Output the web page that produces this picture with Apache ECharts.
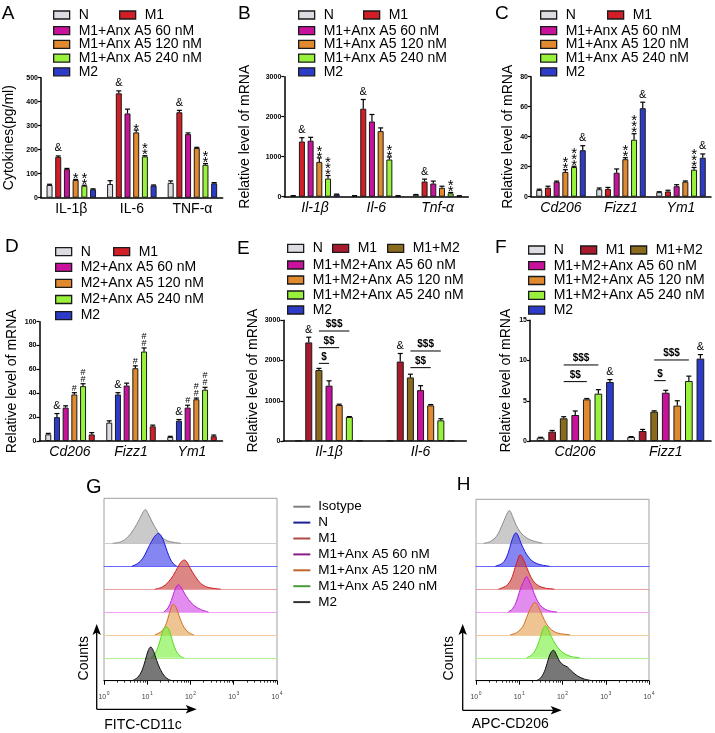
<!DOCTYPE html>
<html><head><meta charset="utf-8">
<script src="https://cdn.jsdelivr.net/npm/echarts@6/dist/echarts.min.js"></script>
<style>html,body{margin:0;padding:0;background:#fff}#c{width:715px;height:733px}</style>
</head><body><div id="c"></div>
<script>
// ======================= DATA =======================
// Panel A
const catsA = ['IL-1β', 'IL-6', 'TNF-α'];
const namesA = ['N', 'M1', 'M1+Anx A5 60 nM', 'M1+Anx A5 120 nM', 'M1+Anx A5 240 nM', 'M2'];
const valsA = [[53, 57, 62], [170, 435, 356], [119, 351, 265], [74, 272, 207], [50, 172, 137], [35, 51, 60]];
const errsA = [[3, 14, 8], [4, 10, 8], [3, 18, 5], [2, 10, 3], [2, 3, 5], [2, 2, 3]];
const marksA = [['', '', ''], ['&', '&', '&'], ['', '', ''], ['*', '*', ''], ['**', '**', '**'], ['', '', '']];
const ticksA = [0, 500, 100];

// Panel B
const catsB = ['Il-1β', 'Il-6', 'Tnf-α'];
const namesB = ['N', 'M1', 'M1+Anx A5 60 nM', 'M1+Anx A5 120 nM', 'M1+Anx A5 240 nM', 'M2'];
const valsB = [[22, 22, 50], [1380, 2200, 380], [1400, 1880, 330], [870, 1640, 222], [455, 930, 85], [60, 22, 20]];
const errsB = [[4, 4, 5], [95, 230, 60], [85, 175, 60], [100, 80, 40], [75, 65, 20], [5, 4, 4]];
const marksB = [['', '', ''], ['&', '&', '&'], ['', '', ''], ['**', '', ''], ['***', '**', '**'], ['', '', '']];
const ticksB = [0, 3000, 1000];

// Panel C
const catsC = ['Cd206', 'Fizz1', 'Ym1'];
const namesC = ['N', 'M1', 'M1+Anx A5 60 nM', 'M1+Anx A5 120 nM', 'M1+Anx A5 240 nM', 'M2'];
const valsC = [[4.5, 5, 3], [6, 5.2, 3.5], [10, 16, 7], [16.5, 25, 10], [19.8, 38, 18], [31, 59, 26]];
const errsC = [[0.5, 0.8, 0.3], [1, 1, 0.8], [0.4, 2.5, 1], [1.5, 1, 0.5], [0.5, 4, 1.5], [3, 4, 2.5]];
const marksC = [['', '', ''], ['', '', ''], ['', '', ''], ['**', '**', ''], ['***', '***', '***'], ['&', '&', '&']];
const ticksC = [0, 80, 20];

// Panel D (bar order: N, M2, M2+60, M2+120, M2+240, M1)
const catsD = ['Cd206', 'Fizz1', 'Ym1'];
const namesD = ['N', 'M2', 'M2+Anx A5 60 nM', 'M2+Anx A5 120 nM', 'M2+Anx A5 240 nM', 'M1'];
const valsD = [[5.6, 15.4, 3.4], [20, 39, 17], [28, 46.5, 28], [39, 61, 35], [46, 75, 43], [5.5, 12.3, 4]];
const errsD = [[0.8, 1.5, 0.5], [3, 1.5, 1], [1.5, 2, 2], [1.5, 2, 1], [2, 3, 2], [1.5, 1, 1]];
const marksD = [['', '', ''], ['&', '&', '&'], ['', '', '#'], ['#', '#', '##'], ['##', '##', '##'], ['', '', '']];
const ticksD = [0, 100, 20];

// Panel E
const catsE = ['Il-1β', 'Il-6'];
const namesE = ['N', 'M1', 'M1+M2', 'M1+M2+Anx A5 60 nM', 'M1+M2+Anx A5 120 nM', 'M1+M2+Anx A5 240 nM', 'M2'];
const valsE = [[10, 10], [2450, 1975], [1765, 1580], [1375, 1265], [895, 886], [597, 514], [10, 10]];
const errsE = [[0, 0], [130, 200], [40, 80], [120, 110], [20, 20], [10, 40], [0, 0]];
const marksE = [['', ''], ['&', '&'], ['', ''], ['', ''], ['', ''], ['', ''], ['', '']];
const sigE = [[0, 2, 3, 1930, '$'], [0, 2, 4, 2320, '$$'], [0, 2, 5, 2734, '$$$'], [1, 2, 4, 1823, '$$'], [1, 2, 5, 2237, '$$$']];
const ticksE = [0, 3000, 1000];

// Panel F
const catsF = ['Cd206', 'Fizz1'];
const namesF = ['N', 'M1', 'M1+M2', 'M1+M2+Anx A5 60 nM', 'M1+M2+Anx A5 120 nM', 'M1+M2+Anx A5 240 nM', 'M2'];
const valsF = [[0.41, 0.5], [1.16, 1.24], [2.82, 3.65], [3.23, 6.0], [5.18, 4.4], [5.88, 7.46], [7.33, 10.24]];
const errsF = [[0.05, 0.05], [0.15, 0.2], [0.2, 0.1], [0.5, 0.3], [0.1, 0.6], [0.5, 0.6], [0.3, 0.5]];
const marksF = [['', ''], ['', ''], ['', ''], ['', ''], ['', ''], ['', ''], ['&', '&']];
const sigF = [[0, 2, 4, 7.38, '$$'], [0, 2, 5, 9.45, '$$$'], [1, 2, 3, 7.5, '$'], [1, 2, 5, 10.07, '$$$']];
const ticksF = [0, 15, 5];

// Flow cytometry histograms: [fluorescence intensity, relative counts]
const histNames = ['Isotype', 'N', 'M1', 'M1+Anx A5 60 nM', 'M1+Anx A5 120 nM', 'M1+Anx A5 240 nM', 'M2'];
const gIsotype = [[1.6,0],[2.5,5],[3.5,18],[5,45],[6.5,72],[8,95],[9,103],[10.5,90],[13,65],[17,38],[22,18],[30,7],[45,2],[60,0]];
const gN = [[4.4,0],[6,8],[8,25],[10,50],[12.5,75],[15,92],[18,100],[21,93],[25,70],[29,45],[34,22],[40,8],[48,0]];
const gM1 = [[15,0],[22,6],[30,20],[40,42],[50,65],[60,82],[72,89],[85,80],[100,62],[130,38],[170,18],[230,7],[350,2],[500,0]];
const gA60 = [[24,0],[30,12],[36,35],[42,62],[48,80],[53,83],[60,76],[72,58],[90,38],[120,20],[170,8],[260,0]];
const gA120 = [[15,0],[20,8],[25,22],[30,50],[35,80],[40,94],[46,85],[54,60],[65,32],[80,14],[100,4],[120,0]];
const gA240 = [[12,0],[15,12],[18,35],[21,65],[24,88],[28,94],[32,85],[37,58],[43,32],[50,14],[60,4],[70,0]];
const gM2 = [[4.5,0],[6,10],[7.5,30],[9,62],[10.5,92],[12,103],[14,90],[16.5,62],[20,35],[25,14],[31,4],[38,0]];
const hIsotype = [[1.5,0],[2.2,6],[3,22],[4,55],[5,85],[5.9,100],[7,82],[8.5,55],[10.5,35],[13,22],[17,12],[24,5],[35,0]];
const hN = [[2.8,0],[4,8],[5,25],[6,55],[7,85],[8.4,102],[9.5,92],[11,70],[13.5,45],[17,25],[22,12],[32,4],[50,0]];
const hM1 = [[3.3,0],[5,10],[6.5,30],[8,65],[9.5,95],[10.5,105],[12,95],[14,75],[17,48],[21,25],[28,10],[40,3],[65,0]];
const hA60 = [[5.6,0],[7,10],[8.5,30],[10,60],[12,88],[14.8,108],[17,95],[20,72],[24,45],[30,22],[40,8],[55,2],[74,0]];
const hA120 = [[6.2,0],[9,8],[12,25],[15,55],[18,80],[23,99],[28,85],[34,60],[42,35],[55,16],[75,6],[110,2],[150,0]];
const hA240 = [[14.8,0],[20,10],[26,35],[32,70],[36,90],[40,98],[46,88],[55,65],[70,40],[90,22],[120,10],[170,3],[250,0]];
const hM2 = [[25,0],[32,10],[40,35],[48,70],[55,88],[62,93],[72,80],[85,60],[105,48],[130,42],[160,30],[220,15],[320,5],[500,0]];
const histTicks = [1, 10000];

// ======================= STYLE =======================
const FONT = '"Liberation Sans", Arial, Helvetica, sans-serif';
const C_N = '#dcdce2', C_M1 = '#d21f27', C_M1d = '#a81b2e', C_60 = '#c8129c', C_120 = '#e0892e',
      C_240 = '#98f23c', C_M2 = '#2c3cc8', C_M1M2 = '#8a6a1c';

const option = {
  animation: false, backgroundColor: '#fff', textStyle: { fontFamily: FONT },
  grid: [], xAxis: [], yAxis: [], series: [], legend: [], graphic: { elements: [] }
};

function markStyle(m) {
  const ch = m.charAt(0);
  if (ch === '&') return { fontSize: 11, lineHeight: 11, dy: -1 };
  if (ch === '*') return { fontSize: 15, lineHeight: 6, dy: 3.5 };
  return { fontSize: 9, lineHeight: 7, dy: 0 };
}

function barPanel(p) {
  const gi = option.grid.length;
  option.grid.push({ left: p.left, top: p.top, width: p.width, height: p.height, outerBoundsMode: 'none' });
  option.xAxis.push({
    type: 'category', gridIndex: gi, data: p.cats,
    axisLine: { show: true, lineStyle: { color: '#000', width: 1.5 } },
    axisTick: { show: false },
    axisLabel: { fontSize: 14, fontFamily: FONT, color: '#000', fontStyle: p.italic ? 'italic' : 'normal', margin: 4, interval: 0 }
  });
  option.yAxis.push({
    type: 'value', gridIndex: gi, min: p.ticks[0], max: p.ticks[1], interval: p.ticks[2],
    name: p.yName, nameLocation: 'middle', nameGap: p.nameGap,
    nameTextStyle: { fontSize: 14, fontFamily: FONT, color: '#000' },
    splitLine: { show: false },
    axisLine: { show: true, lineStyle: { color: '#000', width: 1.5 } },
    axisTick: { show: true, length: 3, lineStyle: { color: '#000', width: 1.2 } },
    axisLabel: { fontSize: 7, fontWeight: 'bold', color: '#000', margin: 3, fontFamily: FONT, formatter: v => String(v) }
  });
  const n = p.names.length;
  const spacing = p.barWidth * (1 + p.gapRatio);
  p.names.forEach((nm, s) => {
    option.series.push({
      type: 'bar', name: nm, xAxisIndex: gi, yAxisIndex: gi, data: p.vals[s],
      barWidth: p.barWidth, barGap: (p.gapRatio * 100) + '%',
      itemStyle: { color: p.colors[s], borderColor: '#1a1a1a', borderWidth: 1 },
      emphasis: { disabled: true }, z: 2
    });
  });
  p.names.forEach((nm, s) => {
    const off = (s - (n - 1) / 2) * spacing;
    option.series.push({
      type: 'custom', xAxisIndex: gi, yAxisIndex: gi, silent: true, z: 5,
      data: p.vals[s].map((v, i) => [i, v, p.errs[s][i]]),
      renderItem: (params, api) => {
        const i = api.value(0), v = api.value(1), e = api.value(2);
        const base = api.coord([i, v]);
        const top = api.coord([i, v + e]);
        const x = base[0] + off;
        const children = [];
        if (e > 0) {
          children.push({ type: 'line', shape: { x1: x, y1: base[1], x2: x, y2: top[1] }, style: { stroke: '#000', lineWidth: 1.2 } });
          children.push({ type: 'line', shape: { x1: x - 2.5, y1: top[1], x2: x + 2.5, y2: top[1] }, style: { stroke: '#000', lineWidth: 1.2 } });
        }
        const m = p.marks[s][params.dataIndex];
        if (m) {
          const ms = markStyle(m);
          children.push({ type: 'text', style: {
            text: m.split('').join('\n'), x: x, y: top[1] - 1 + ms.dy,
            align: 'center', verticalAlign: 'bottom', fontSize: ms.fontSize, lineHeight: ms.lineHeight,
            fontFamily: FONT, fill: '#000' } });
        }
        return { type: 'group', children };
      }
    });
  });
  if (p.sig) {
    option.series.push({
      type: 'custom', xAxisIndex: gi, yAxisIndex: gi, silent: true, z: 5,
      data: p.sig.map(r => [r[0], r[3]]),
      renderItem: (params, api) => {
        const r = p.sig[params.dataIndex];
        const c = api.coord([r[0], r[3]]);
        const x1 = c[0] + (r[1] - (n - 1) / 2) * spacing;
        const x2 = c[0] + (r[2] - (n - 1) / 2) * spacing;
        return { type: 'group', children: [
          { type: 'line', shape: { x1, y1: c[1], x2, y2: c[1] }, style: { stroke: '#000', lineWidth: 1 } },
          { type: 'text', style: { text: r[4], x: (x1 + x2) / 2, y: c[1] - 1.5, align: 'center', verticalAlign: 'bottom',
            fontSize: 10, fontWeight: 'bold', fontFamily: FONT, fill: '#000' } }
        ] };
      }
    });
  }
  p.legendRow1.forEach((si, k) => addBarLegend([si], p, p.row1Left[k], p.row1Top, 0));
  addBarLegend(p.legendRest, p, p.row1Left[0], p.restTop, p.restGap);
}

function addBarLegend(idx, p, left, top, gap) {
  option.legend.push({
    show: true, left: left, top: top, orient: 'vertical', itemGap: gap, padding: 0, selectedMode: false,
    icon: 'rect', itemWidth: 16, itemHeight: 8,
    itemStyle: { borderColor: '#1a1a1a', borderWidth: 1.3 },
    textStyle: { fontSize: 14, fontFamily: FONT, color: '#000', lineHeight: 14, padding: [0, 0, 0, 4] },
    data: idx.map(si => ({ name: p.names[si], itemStyle: { color: p.colors[si], borderColor: '#1a1a1a', borderWidth: 1.3 } }))
  });
}

barPanel({ left: 41, top: 77.7, width: 181.7, height: 120, cats: catsA, names: namesA, vals: valsA, errs: errsA, marks: marksA,
  ticks: ticksA, yName: 'Cytokines(pg/ml)', nameGap: 25, italic: false, barWidth: 6, gapRatio: 0.45,
  colors: [C_N, C_M1, C_60, C_120, C_240, C_M2],
  legendRow1: [0, 1], row1Left: [53, 119], row1Top: 8, legendRest: [2, 3, 4, 5], restTop: 23.7, restGap: -0.3 });

barPanel({ left: 284.3, top: 76.7, width: 184, height: 120, cats: catsB, names: namesB, vals: valsB, errs: errsB, marks: marksB,
  ticks: ticksB, yName: 'Relative level of mRNA', nameGap: 32, italic: true, barWidth: 6, gapRatio: 0.45,
  colors: [C_N, C_M1, C_60, C_120, C_240, C_M2],
  legendRow1: [0, 1], row1Left: [298, 363], row1Top: 8, legendRest: [2, 3, 4, 5], restTop: 23.7, restGap: -0.3 });

barPanel({ left: 531, top: 76.7, width: 180, height: 120, cats: catsC, names: namesC, vals: valsC, errs: errsC, marks: marksC,
  ticks: ticksC, yName: 'Relative level of mRNA', nameGap: 16, italic: true, barWidth: 6, gapRatio: 0.45,
  colors: [C_N, C_M1, C_60, C_120, C_240, C_M2],
  legendRow1: [0, 1], row1Left: [540, 607], row1Top: 8, legendRest: [2, 3, 4, 5], restTop: 23.7, restGap: -0.3 });

barPanel({ left: 39.5, top: 321.7, width: 183, height: 119.3, cats: catsD, names: namesD, vals: valsD, errs: errsD, marks: marksD,
  ticks: ticksD, yName: 'Relative level of mRNA', nameGap: 20.5, italic: true, barWidth: 6, gapRatio: 0.45,
  colors: [C_N, C_M2, C_60, C_120, C_240, C_M1],
  legendRow1: [0, 5], row1Left: [55, 113], row1Top: 244.7, legendRest: [2, 3, 4, 1], restTop: 260.3, restGap: 2.1 });

barPanel({ left: 283.3, top: 320.3, width: 183, height: 120.7, cats: catsE, names: namesE, vals: valsE, errs: errsE, marks: marksE,
  sig: sigE, ticks: ticksE, yName: 'Relative level of mRNA', nameGap: 23, italic: true, barWidth: 7, gapRatio: 0.45,
  colors: [C_N, C_M1d, C_M1M2, C_60, C_120, C_240, C_M2],
  legendRow1: [0, 1, 2], row1Left: [287, 332, 387], row1Top: 241.3, legendRest: [3, 4, 5, 6], restTop: 258, restGap: 1 });

barPanel({ left: 530, top: 320.3, width: 181, height: 120.7, cats: catsF, names: namesF, vals: valsF, errs: errsF, marks: marksF,
  sig: sigF, ticks: ticksF, yName: 'Relative level of mRNA', nameGap: 17, italic: true, barWidth: 7.7, gapRatio: 0.5,
  colors: [C_N, C_M1d, C_M1M2, C_60, C_120, C_240, C_M2],
  legendRow1: [0, 1, 2], row1Left: [528, 580, 630], row1Top: 243, legendRest: [3, 4, 5, 6], restTop: 258.7, restGap: 0.8 });

// ======================= HISTOGRAMS =======================
const histFill = ['rgba(150,150,150,0.5)', 'rgba(60,60,235,0.62)', 'rgba(200,60,60,0.62)', 'rgba(210,70,230,0.62)',
                  'rgba(228,160,80,0.62)', 'rgba(120,240,60,0.62)', 'rgba(55,55,55,0.68)'];
const histLine = ['#8c8c8c', '#1a1ae6', '#d02020', '#c020d8', '#d07020', '#55dd22', '#111111'];
const histBase = ['#cccccc', '#6a6aff', '#e8a0a0', '#f0a0f5', '#f2cc99', '#b0f090', '#000000'];

function histPanel(h) {
  const fi = option.grid.length;
  option.grid.push({ left: h.left, top: h.frameTop, width: h.width, height: h.firstBase + 6 * h.step - h.frameTop,
    show: true, borderColor: '#a0a0a0', borderWidth: 1, backgroundColor: 'transparent', outerBoundsMode: 'none' });
  option.xAxis.push({ type: 'value', gridIndex: fi, show: false, min: 0, max: 1 });
  option.yAxis.push({ type: 'value', gridIndex: fi, show: false, min: 0, max: 1 });
  h.curves.forEach((data, r) => {
    const gi = option.grid.length;
    const base = h.firstBase + r * h.step;
    const last = r === h.curves.length - 1;
    option.grid.push({ left: h.left, top: base - h.step, width: h.width, height: h.step, outerBoundsMode: 'none' });
    option.xAxis.push({
      type: 'log', logBase: 10, min: histTicks[0], max: histTicks[1], gridIndex: gi,
      axisLine: { show: true, lineStyle: { color: histBase[r], width: last ? 1.2 : 1 } },
      axisTick: { show: last, length: 4, lineStyle: { color: '#000', width: 1 } },
      minorTick: { show: last, splitNumber: 9, length: 2, lineStyle: { color: '#000', width: 0.8 } },
      splitLine: { show: false }, minorSplitLine: { show: false },
      axisLabel: { show: last, margin: 10, formatter: v => '{b|10}{s|' + Math.round(Math.log10(v)) + '}',
        rich: { b: { fontSize: 7, color: '#444', fontFamily: FONT, lineHeight: 10, verticalAlign: 'bottom' },
                s: { fontSize: 5, color: '#444', fontFamily: FONT, lineHeight: 10, verticalAlign: 'top', padding: [0, 0, 0, 0.5] } } }
    });
    option.yAxis.push({ type: 'value', gridIndex: gi, min: 0, max: 70, show: false });
    option.series.push({
      type: 'line', name: histNames[r], xAxisIndex: gi, yAxisIndex: gi, data: data,
      smooth: 0.35, symbol: 'none', clip: false, silent: true,
      lineStyle: { color: histLine[r], width: 1 },
      areaStyle: { color: histFill[r], opacity: 1 },
      z: 3 + r
    });
  });
}

histPanel({ left: 104, width: 173, frameTop: 498.3, firstBase: 543.3, step: 22.9,
  curves: [gIsotype, gN, gM1, gA60, gA120, gA240, gM2] });
histPanel({ left: 476, width: 173, frameTop: 499.3, firstBase: 543.3, step: 22.9,
  curves: [hIsotype, hN, hM1, hA60, hA120, hA240, hM2] });

const midLegendColors = ['#808080', '#1e1e96', '#b04a4a', '#8c1c80', '#c0662c', '#4c9a3c', '#333333'];
option.legend.push({
  show: true, left: 293.3, top: 499.7, orient: 'vertical', itemGap: 1.9, padding: 0, selectedMode: false,
  icon: 'rect', itemWidth: 17, itemHeight: 2, itemStyle: { borderWidth: 0 },
  textStyle: { fontSize: 13.5, fontFamily: FONT, color: '#000', lineHeight: 14, padding: [0, 0, 0, 3] },
  data: histNames.map((nm, i) => ({ name: nm, itemStyle: { color: midLegendColors[i], borderWidth: 0 } }))
});

// ======================= DECORATIONS =======================
const G = option.graphic.elements;
function letter(t, x, y, size) {
  G.push({ type: 'text', x: x, y: y, style: { text: t, fontSize: size || 19, fontFamily: FONT, fill: '#000', verticalAlign: 'top' } });
}
letter('A', 1.7, 4.2); letter('B', 238, 4.5); letter('C', 495, 4.5);
letter('D', 5, 237.5); letter('E', 237, 239); letter('F', 495, 238.5);
letter('G', 86, 477.5, 20); letter('H', 456.7, 475.5);

function axesArrows(x0, y0, yTip, xTip, xName, nameLeft, nameY, countsX) {
  G.push({ type: 'line', shape: { x1: x0, y1: y0, x2: x0, y2: yTip + 8 }, style: { stroke: '#000', lineWidth: 1.3 } });
  G.push({ type: 'polygon', shape: { points: [[x0, yTip], [x0 - 4.2, yTip + 11], [x0, yTip + 8.5], [x0 + 4.2, yTip + 11]] }, style: { fill: '#000' } });
  G.push({ type: 'line', shape: { x1: x0, y1: y0, x2: xTip - 8, y2: y0 }, style: { stroke: '#000', lineWidth: 1.3 } });
  G.push({ type: 'polygon', shape: { points: [[xTip, y0], [xTip - 11, y0 - 4.2], [xTip - 8.5, y0], [xTip - 11, y0 + 4.2]] }, style: { fill: '#000' } });
  G.push({ type: 'text', x: countsX, y: 658.3, rotation: Math.PI / 2,
    style: { text: 'Counts', fontSize: 14, fontFamily: FONT, fill: '#000', align: 'center', verticalAlign: 'middle' } });
  G.push({ type: 'text', x: nameLeft, y: nameY,
    style: { text: xName, fontSize: 14, fontFamily: FONT, fill: '#000', align: 'left', verticalAlign: 'middle' } });
}
axesArrows(96.7, 709.3, 624, 196.7, 'FITC-CD11c', 104.3, 725.5, 84);
axesArrows(462.7, 710.3, 624, 561.7, 'APC-CD206', 471.7, 724.5, 449.3);

const chart = echarts.init(document.getElementById('c'), null, { renderer: 'canvas' });
chart.setOption(option);
</script>
</body></html>
